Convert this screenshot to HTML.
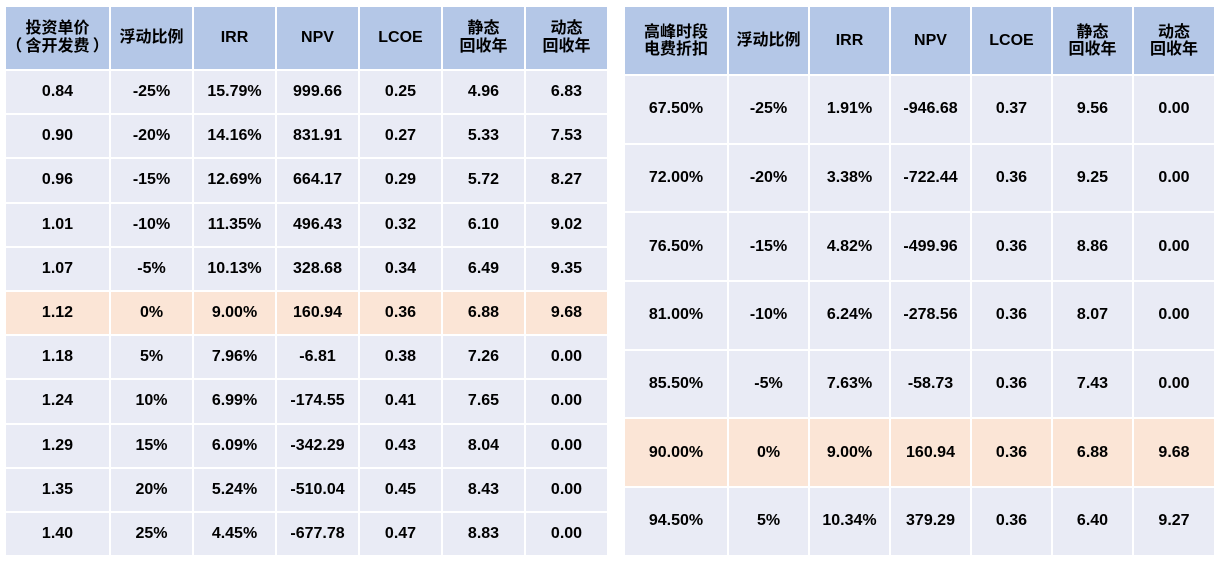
<!DOCTYPE html>
<html>
<head>
<meta charset="utf-8">
<style>
html,body{margin:0;padding:0;background:#fff;}
body{width:1228px;height:563px;position:relative;overflow:hidden;
font-family:"Liberation Sans","Noto Sans CJK SC",sans-serif;font-weight:bold;color:#000;}
.t{position:absolute;display:grid;gap:2px;}
.t div{display:flex;align-items:center;justify-content:center;text-align:center;background:#E9EBF5;font-size:16px;}
.t div.h{background:#B4C7E7;font-size:16px;line-height:18px;}
.t div.o{background:#FBE5D6;}
#L{left:6px;top:7px;grid-template-columns:103px 81px 81px 81px 81px 81px 81px;grid-template-rows:62px repeat(11,42.2px);}
#R{left:625px;top:7px;grid-template-columns:102px 79px 79px 79px 79px 79px 80px;grid-template-rows:67px repeat(7,66.7px);}
#R div.h{line-height:17px;}
</style>
</head>
<body>
<div class="t" id="L">
<div class="h">投资单价<br>（&#8201;含开发费&#8201;）</div><div class="h">浮动比例</div><div class="h">IRR</div><div class="h">NPV</div><div class="h">LCOE</div><div class="h">静态<br>回收年</div><div class="h">动态<br>回收年</div>
<div>0.84</div><div>-25%</div><div>15.79%</div><div>999.66</div><div>0.25</div><div>4.96</div><div>6.83</div>
<div>0.90</div><div>-20%</div><div>14.16%</div><div>831.91</div><div>0.27</div><div>5.33</div><div>7.53</div>
<div>0.96</div><div>-15%</div><div>12.69%</div><div>664.17</div><div>0.29</div><div>5.72</div><div>8.27</div>
<div>1.01</div><div>-10%</div><div>11.35%</div><div>496.43</div><div>0.32</div><div>6.10</div><div>9.02</div>
<div>1.07</div><div>-5%</div><div>10.13%</div><div>328.68</div><div>0.34</div><div>6.49</div><div>9.35</div>
<div class="o">1.12</div><div class="o">0%</div><div class="o">9.00%</div><div class="o">160.94</div><div class="o">0.36</div><div class="o">6.88</div><div class="o">9.68</div>
<div>1.18</div><div>5%</div><div>7.96%</div><div>-6.81</div><div>0.38</div><div>7.26</div><div>0.00</div>
<div>1.24</div><div>10%</div><div>6.99%</div><div>-174.55</div><div>0.41</div><div>7.65</div><div>0.00</div>
<div>1.29</div><div>15%</div><div>6.09%</div><div>-342.29</div><div>0.43</div><div>8.04</div><div>0.00</div>
<div>1.35</div><div>20%</div><div>5.24%</div><div>-510.04</div><div>0.45</div><div>8.43</div><div>0.00</div>
<div>1.40</div><div>25%</div><div>4.45%</div><div>-677.78</div><div>0.47</div><div>8.83</div><div>0.00</div>
</div>
<div class="t" id="R">
<div class="h">高峰时段<br>电费折扣</div><div class="h">浮动比例</div><div class="h">IRR</div><div class="h">NPV</div><div class="h">LCOE</div><div class="h">静态<br>回收年</div><div class="h">动态<br>回收年</div>
<div>67.50%</div><div>-25%</div><div>1.91%</div><div>-946.68</div><div>0.37</div><div>9.56</div><div>0.00</div>
<div>72.00%</div><div>-20%</div><div>3.38%</div><div>-722.44</div><div>0.36</div><div>9.25</div><div>0.00</div>
<div>76.50%</div><div>-15%</div><div>4.82%</div><div>-499.96</div><div>0.36</div><div>8.86</div><div>0.00</div>
<div>81.00%</div><div>-10%</div><div>6.24%</div><div>-278.56</div><div>0.36</div><div>8.07</div><div>0.00</div>
<div>85.50%</div><div>-5%</div><div>7.63%</div><div>-58.73</div><div>0.36</div><div>7.43</div><div>0.00</div>
<div class="o">90.00%</div><div class="o">0%</div><div class="o">9.00%</div><div class="o">160.94</div><div class="o">0.36</div><div class="o">6.88</div><div class="o">9.68</div>
<div>94.50%</div><div>5%</div><div>10.34%</div><div>379.29</div><div>0.36</div><div>6.40</div><div>9.27</div>
</div>
</body>
</html>
